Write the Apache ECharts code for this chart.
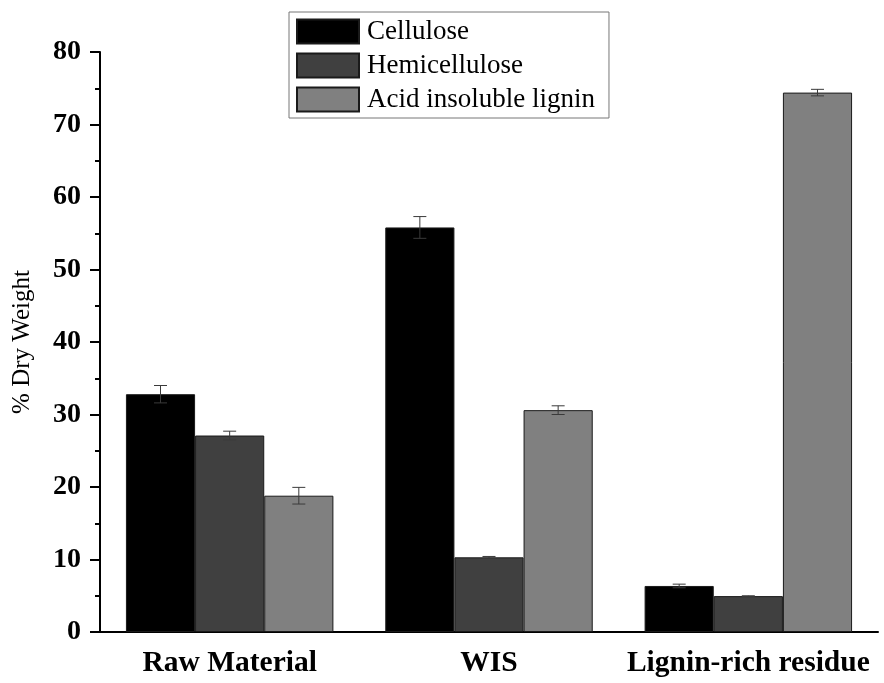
<!DOCTYPE html>
<html>
<head>
<meta charset="utf-8">
<script src="https://cdn.jsdelivr.net/npm/echarts@6/dist/echarts.min.js"></script>
<style>html,body{margin:0;padding:0;background:#fff;}#c{width:884px;height:683px;}</style>
</head>
<body>
<div id="c"></div>
<script>
const categories = ['Raw Material', 'WIS', 'Lignin-rich residue'];
const seriesNames = ['Cellulose', 'Hemicellulose', 'Acid insoluble lignin'];
const cellulose = [32.8, 55.8, 6.35];
const hemicellulose = [27.1, 10.3, 4.95];
const lignin = [18.8, 30.6, 74.4];
const celluloseErr = [1.2, 1.5, 0.25];
const hemicelluloseErr = [0.6, 0.12, 0.05];
const ligninErr = [1.15, 0.6, 0.45];
const yTicks = [0, 10, 20, 30, 40, 50, 60, 70, 80];

const values = [cellulose, hemicellulose, lignin];
const errs = [celluloseErr, hemicelluloseErr, ligninErr];
const colors = ['#000000', '#404040', '#808080'];
const FONT = "'Liberation Serif','Times New Roman',serif";

const barSeries = seriesNames.map((n, i) => ({
  name: n, type: 'bar', data: values[i],
  barGap: '0%', barCategoryGap: '20%',
  itemStyle: { color: colors[i], borderColor: '#1a1a1a', borderWidth: 1 }
}));

const errSeries = seriesNames.map((n, i) => ({
  name: n + ' err', type: 'custom', z: 10,
  data: values[i].map((v, k) => [k, v, errs[i][k]]),
  renderItem: function (params, api) {
    const k = api.value(0), v = api.value(1), e = api.value(2);
    const band = api.size([1, 0])[0];
    const bw = band * 0.8 / 3;
    const cx = api.coord([k, v])[0] + (i - 1) * bw;
    const yt = api.coord([k, v + e])[1];
    const yb = api.coord([k, v - e])[1];
    const hw = 6.5;
    const st = { stroke: '#3a3a3a', lineWidth: 1 };
    return { type: 'group', children: [
      { type: 'line', shape: { x1: cx, y1: yt, x2: cx, y2: yb }, style: st },
      { type: 'line', shape: { x1: cx - hw, y1: yt, x2: cx + hw, y2: yt }, style: st },
      { type: 'line', shape: { x1: cx - hw, y1: yb, x2: cx + hw, y2: yb }, style: st }
    ]};
  }
}));

const chart = echarts.init(document.getElementById('c'));
chart.setOption({
  animation: false,
  backgroundColor: '#fff',
  grid: { left: 100, right: 6, top: 52, bottom: 51 },
  legend: {
    data: seriesNames.map(n => ({ name: n, icon: 'rect' })),
    orient: 'vertical', left: 289, top: 12,
    itemWidth: 62, itemHeight: 24, itemGap: 7,
    padding: [6, 14, 5, 7],
    borderColor: '#777', borderWidth: 1,
    textStyle: { fontFamily: FONT, fontSize: 27, color: '#000', lineHeight: 24, padding: [0, 0, 0, 3] },
    selectedMode: false
  },
  xAxis: [{
    type: 'category', data: categories,
    axisLine: { lineStyle: { color: '#000', width: 2 } },
    axisTick: { alignWithLabel: true, length: 10, lineStyle: { color: '#000', width: 2 } },
    axisLabel: { interval: 0, fontFamily: FONT, fontSize: 29.5, fontWeight: 'bold', color: '#000', margin: 16 }
  }, {
    type: 'category', data: categories, position: 'bottom',
    axisLine: { show: false },
    axisTick: { length: 5, lineStyle: { color: '#000', width: 2 } },
    axisLabel: { show: false }
  }],
  yAxis: {
    type: 'value', min: yTicks[0], max: yTicks[yTicks.length - 1], interval: 10,
    name: '% Dry Weight', nameLocation: 'middle', nameGap: 65, nameRotate: 90,
    nameTextStyle: { fontFamily: FONT, fontSize: 25, color: '#000' },
    axisLine: { show: true, lineStyle: { color: '#000', width: 2 } },
    axisTick: { show: true, length: 10, lineStyle: { color: '#000', width: 2 } },
    minorTick: { show: true, splitNumber: 2, length: 5, lineStyle: { color: '#000', width: 2 } },
    splitLine: { show: false },
    axisLabel: { fontFamily: FONT, fontSize: 28, fontWeight: 'bold', color: '#000', margin: 19 }
  },
  series: barSeries.concat(errSeries)
});
</script>
</body>
</html>
